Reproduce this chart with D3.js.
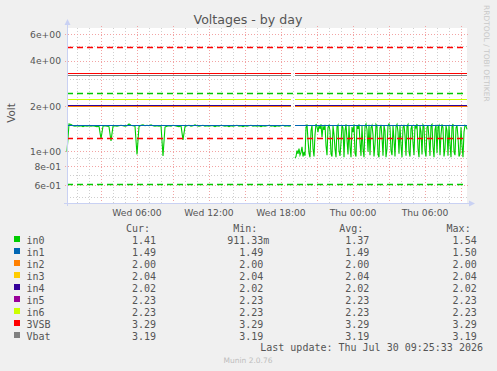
<!DOCTYPE html>
<html>
<head>
<meta charset="utf-8">
<script src="https://cdn.jsdelivr.net/npm/d3@7"></script>
<style>
  html, body { margin: 0; padding: 0; background: #f0f0f0; }
  svg { display: block; }
  text { fill: #555; }
</style>
</head>
<body>
<svg id="chart" width="497" height="371"></svg>
<script>
// series names / colours / legend numbers (munin "Voltages - by day")
var names = ["in0", "in1", "in2", "in3", "in4", "in5", "in6", "3VSB", "Vbat"];
var colors = ["#00cc00", "#0066b3", "#ff8000", "#ffcc00", "#330099", "#990099", "#ccff00", "#ff0000", "#808080"];
var curText = ["1.41", "1.49", "2.00", "2.04", "2.02", "2.23", "2.23", "3.29", "3.19"];
var minText = ["911.33m", "1.49", "2.00", "2.04", "2.02", "2.23", "2.23", "3.29", "3.19"];
var avgText = ["1.37", "1.49", "2.00", "2.04", "2.02", "2.23", "2.23", "3.29", "3.19"];
var maxText = ["1.54", "1.50", "2.00", "2.04", "2.02", "2.23", "2.23", "3.29", "3.19"];

// flat series (in1 .. Vbat), level held over both data segments
var levels = [null, 1.49, 2.00, 2.04, 2.02, 2.23, 2.23, 3.29, 3.19];

// data segments, there is a hole around Wed 19:00
var segStart = [new Date(2026, 6, 29, 0, 10), new Date(2026, 6, 29, 19, 10)];
var segStepMin = [10, 5];

// in0, first segment (10 min steps)
var in0a = [1.00, 1.53, 1.52, 1.49, 1.48, 1.49, 1.48, 1.49, 1.47, 1.49,
            1.48, 1.49, 1.48, 1.49, 1.48, 1.47, 1.48, 1.22, 1.48, 1.49,
            1.48, 1.47, 1.18, 1.48, 1.49, 1.48, 1.49, 1.50, 1.49, 1.48,
            1.49, 1.53, 1.50, 1.49, 1.48, 0.96, 1.47, 1.50, 1.51, 1.49,
            1.50, 1.49, 1.51, 1.49, 1.48, 1.49, 1.48, 1.49, 0.94, 1.46,
            1.48, 1.49, 1.48, 1.50, 1.49, 1.48, 1.47, 1.49, 1.20, 1.47,
            1.49, 1.50, 1.48, 1.49, 1.51, 1.49, 1.48, 1.49, 1.50, 1.48,
            1.49, 1.48, 1.49, 1.49, 1.47, 1.49, 1.48, 1.50, 1.49, 1.48,
            1.49, 1.47, 1.49, 1.48, 1.49, 1.50, 1.48, 1.49, 1.47, 1.49,
            1.48, 1.49, 1.50, 1.48, 1.49, 1.48, 1.49, 1.47, 1.49, 1.48,
            1.49, 1.50, 1.48, 1.49, 1.47, 1.49, 1.48, 1.49, 1.50, 1.48,
            1.49, 1.48, 1.49];
// in0, second segment (5 min steps)
var in0b = [0.91, 0.93, 1.02, 0.97, 1.05, 0.95, 0.99, 1.08, 0.93, 1.00,
            0.94, 1.45, 1.52, 1.20, 0.98, 0.92, 1.38, 1.50, 1.05, 0.93,
            1.30, 1.53, 1.47, 1.35, 1.50, 1.42, 1.52, 1.25, 1.48, 1.40,
            1.51, 1.10, 0.95, 1.45, 1.50, 1.38, 0.97, 0.93, 1.49, 1.30,
            1.05, 0.92, 1.47, 1.51, 1.02, 0.94, 1.15, 1.50, 1.44, 0.92,
            1.38, 1.52, 1.20, 0.96, 1.49, 1.08, 0.92, 1.46, 1.35, 1.52,
            0.98, 0.93, 1.50, 1.42, 1.52, 1.15, 0.94, 1.48, 1.05, 0.92,
            1.47, 1.53, 1.40, 1.00, 1.51, 0.95, 1.45, 1.50, 1.30, 0.93,
            1.12, 1.52, 1.48, 0.96, 0.92, 1.44, 1.51, 1.25, 0.94, 1.50,
            1.38, 0.92, 1.05, 1.49, 1.53, 1.46, 1.02, 0.95, 1.50, 1.20,
            0.93, 1.47, 1.52, 1.35, 0.97, 1.49, 1.10, 0.92, 1.45, 1.51,
            1.28, 0.94, 1.48, 1.52, 1.00, 0.93, 1.42, 1.50, 1.15, 0.95,
            1.50, 1.44, 1.53, 1.05, 0.92, 1.48, 1.36, 0.96, 1.51, 1.47,
            1.02, 0.93, 1.45, 1.50, 1.22, 0.94, 1.49, 1.52, 1.08, 0.92,
            1.40, 1.51, 0.98, 1.46, 1.50, 0.95, 1.30, 1.52, 1.45, 0.93,
            1.05, 1.49, 1.38, 0.94, 1.50, 1.12, 0.92, 1.47, 1.53, 1.00,
            0.95, 1.44, 1.50, 1.25, 0.93, 0.97, 1.46, 1.10, 0.92, 1.35,
            1.50, 1.48, 1.41];

// warning / critical rules
var ruleValues = [4.95, 1.23, 2.45, 0.61];
var ruleColors = ["#ff0000", "#ff0000", "#00cc00", "#00cc00"];

var yMajor = [0.6, 0.8, 1, 2, 4, 6];
var yMinor = [0.5, 0.7, 0.9, 3, 5];

var tStart = new Date(2026, 6, 29, 0, 10);
var tEnd = new Date(2026, 6, 30, 9, 30);
var lastUpdate = "Last update: Thu Jul 30 09:25:33 2026";

var pL = 67, pR = 467, pT = 28, pB = 203;
var svg = d3.select("#chart");

var x = d3.scaleTime().domain([tStart, tEnd]).range([pL, pR]);
var y = d3.scaleLog().domain([0.4573, 6.63]).range([pB, pT]);

function expFmt(v) {
    var s = v.toExponential(0);
    return s.replace(/e([+-])(\d)$/, "e$10$2");
}

function segTimes(k, n) {
    var out = [];
    for (var i = 0; i < n; i++) out.push(new Date(+segStart[k] + i * segStepMin[k] * 60000));
    return out;
}

// snap a value to the middle of a pixel row
function ySnap(v) { return Math.round(y(v) - 0.5) + 0.5; }

// plot background
svg.append("rect").attr("x", pL).attr("y", pT)
    .attr("width", pR - pL).attr("height", pB - pT).attr("fill", "#fff");

// grid
var grid = svg.append("g");
var hours = d3.timeHour.every(1).range(tStart, tEnd);
grid.selectAll(".vminor").data(hours.filter(function (d) { return d.getHours() % 3 != 0; }))
    .enter().append("line")
    .attr("x1", function (d) { return Math.round(x(d)) + 0.5; })
    .attr("x2", function (d) { return Math.round(x(d)) + 0.5; })
    .attr("y1", pT).attr("y2", pB)
    .attr("stroke", "#cfcfcf").attr("stroke-dasharray", "1,2");
grid.selectAll(".vmajor").data(hours.filter(function (d) { return d.getHours() % 3 == 0; }))
    .enter().append("line")
    .attr("x1", function (d) { return Math.round(x(d)) + 0.5; })
    .attr("x2", function (d) { return Math.round(x(d)) + 0.5; })
    .attr("y1", pT - 2).attr("y2", pB + 2)
    .attr("stroke", "#f2a4a4").attr("stroke-dasharray", "1,2");
grid.selectAll(".hminor").data(yMinor)
    .enter().append("line")
    .attr("x1", pL).attr("x2", pR)
    .attr("y1", ySnap).attr("y2", ySnap)
    .attr("stroke", "#cfcfcf").attr("stroke-dasharray", "1,2");
grid.selectAll(".hmajor").data(yMajor)
    .enter().append("line")
    .attr("x1", pL - 2).attr("x2", pR + 2)
    .attr("y1", ySnap).attr("y2", ySnap)
    .attr("stroke", "#f2a4a4").attr("stroke-dasharray", "1,2");

// series
var line = d3.line().x(function (d) { return x(d[0]); }).y(function (d) { return y(d[1]); });
var flat = d3.line().x(function (d) { return x(d[0]); }).y(function (d) { return ySnap(d[1]); });
var series = svg.append("g");
[in0a, in0b].forEach(function (vals, k) {
    var t = segTimes(k, vals.length);
    series.append("path")
        .attr("d", line(vals.map(function (v, i) { return [t[i], v]; })))
        .attr("fill", "none").attr("stroke", colors[0]).attr("stroke-width", 1.1);
});
var seg1End = segTimes(0, in0a.length)[in0a.length - 1];
levels.forEach(function (lv, i) {
    if (lv == null) return;
    [[segStart[0], seg1End], [segStart[1], tEnd]].forEach(function (seg) {
        series.append("path")
            .attr("class", "flat-" + names[i])
            .attr("d", flat([[seg[0], lv], [seg[1], lv]]))
            .attr("fill", "none").attr("stroke", colors[i]).attr("stroke-width", 1.2);
    });
});

// rules
svg.selectAll(".rule").data(ruleValues).enter().append("line")
    .attr("x1", pL).attr("x2", pR)
    .attr("y1", ySnap).attr("y2", ySnap)
    .attr("stroke", function (d, i) { return ruleColors[i]; })
    .attr("stroke-width", 1.4).attr("stroke-dasharray", "6,4");

// axes with arrows
var axisCol = "#c9d1f3";
svg.append("line").attr("x1", pL + 0.5).attr("x2", pL + 0.5).attr("y1", pB + 3).attr("y2", pT - 5)
    .attr("stroke", axisCol);
svg.append("path").attr("d", "M" + (pL - 2.5) + "," + (pT - 3) + "L" + (pL + 3.5) + "," + (pT - 3) + "L" + (pL + 0.5) + "," + (pT - 9) + "Z")
    .attr("fill", axisCol);
svg.append("line").attr("x1", pL - 3).attr("x2", pR + 4).attr("y1", pB + 0.5).attr("y2", pB + 0.5)
    .attr("stroke", axisCol);
svg.append("path").attr("d", "M" + (pR + 2) + "," + (pB - 2.5) + "L" + (pR + 2) + "," + (pB + 3.5) + "L" + (pR + 8) + "," + (pB + 0.5) + "Z")
    .attr("fill", axisCol);

// tick labels
svg.selectAll(".ylab").data(yMajor).enter().append("text")
    .attr("x", 61).attr("y", function (d) { return y(d) + 3.4; })
    .attr("text-anchor", "end")
    .attr("font-family", "DejaVu Sans").attr("font-size", "9.2px")
    .text(expFmt);
svg.selectAll(".xlab").data(hours.filter(function (d) { return d.getHours() % 6 == 0; }))
    .enter().append("text")
    .attr("x", function (d) { return x(d); }).attr("y", 215.5)
    .attr("text-anchor", "middle")
    .attr("font-family", "DejaVu Sans").attr("font-size", "9.2px")
    .text(d3.timeFormat("%a %H:%M"));

// titles
svg.append("text").attr("x", 248).attr("y", 23.5).attr("text-anchor", "middle")
    .attr("font-family", "DejaVu Sans").attr("font-size", "12.6px").text("Voltages - by day");
svg.append("text").attr("transform", "translate(14.5,113) rotate(-90)").attr("text-anchor", "middle")
    .attr("font-family", "DejaVu Sans").attr("font-size", "10.3px").text("Volt");
svg.append("text").attr("transform", "translate(484,5) rotate(90)").attr("text-anchor", "start")
    .attr("font-family", "DejaVu Sans").attr("font-size", "7.5px").style("fill", "#c8c8c8")
    .text("RRDTOOL / TOBI OETIKER");

// legend
var mono = "DejaVu Sans Mono", lf = "10px", cw = 6.02;
var colEdge = [156, 263.3, 369.3, 476.7];
var headers = ["Cur:", "Min:", "Avg:", "Max:"];
var cols = [curText, minText, avgText, maxText];
var legend = svg.append("g").attr("font-family", mono).attr("font-size", lf);
headers.forEach(function (h, j) {
    legend.append("text").attr("x", colEdge[j] - cw).attr("y", 231.5)
        .attr("text-anchor", "end").text(h);
});
names.forEach(function (n, i) {
    var by = 243.5 + i * 12;
    legend.append("rect").attr("x", 14).attr("y", by - 7.5).attr("width", 6).attr("height", 6)
        .attr("fill", colors[i]);
    legend.append("text").attr("x", 26.5).attr("y", by).text(n);
    cols.forEach(function (c, j) {
        var s = c[i];
        var shift = /[0-9]$/.test(s) ? 0 : cw;
        legend.append("text").attr("x", colEdge[j] + shift).attr("y", by)
            .attr("text-anchor", "end").text(s);
    });
});
legend.append("text").attr("x", 483).attr("y", 351).attr("text-anchor", "end").text(lastUpdate);
svg.append("text").attr("x", 248).attr("y", 362.5).attr("text-anchor", "middle")
    .attr("font-family", "DejaVu Sans").attr("font-size", "7.5px").style("fill", "#bdbdbd")
    .text("Munin 2.0.76");
</script>
</body>
</html>
